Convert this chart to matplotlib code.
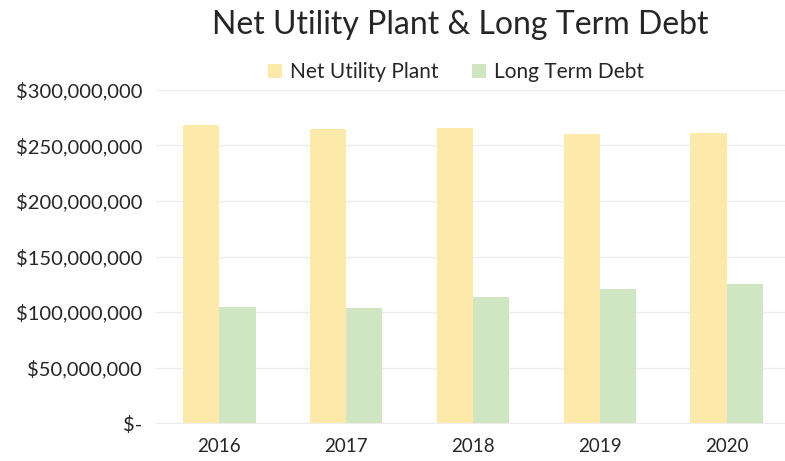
import numpy as np
import matplotlib.pyplot as plt
from matplotlib.ticker import FuncFormatter

plt.rcParams['font.family'] = ['Lato', 'DejaVu Sans']

# -------------------------------
# Data
# -------------------------------
years = ["2016", "2017", "2018", "2019", "2020"]
net_utility_plant = [268.5e6, 265.0e6, 266.0e6, 260.0e6, 261.0e6]
long_term_debt = [104.2e6, 104.0e6, 113.2e6, 120.4e6, 125.5e6]

yellow = "#FDE9A9"
green = "#D0E5C1"
text_col = "#262626"

# -------------------------------
# Figure / axes
# -------------------------------
fig = plt.figure(figsize=(7.85, 4.61), dpi=100)
ax = fig.add_axes([156 / 785, 1 - 423 / 461, 634 / 785, 333 / 461])

x = np.arange(len(years))
w = 0.285
ax.bar(x - w / 2, net_utility_plant, w, color=yellow, label="Net Utility Plant", zorder=2)
ax.bar(x + w / 2, long_term_debt, w, color=green, label="Long Term Debt", zorder=2)

# -------------------------------
# Axes formatting
# -------------------------------
ax.set_xlim(-0.5, len(years) - 0.5)
ax.set_ylim(0, 300e6)
ax.set_yticks(np.arange(0, 300e6 + 1, 50e6))
ax.yaxis.set_major_formatter(FuncFormatter(lambda v, p: "$-" if v == 0 else f"${v:,.0f}"))
ax.set_xticks(x)
ax.set_xticklabels(years)

ax.grid(axis="y", color="#ECECEC", linewidth=1, zorder=0)
for s in ["top", "right", "left"]:
    ax.spines[s].set_visible(False)
ax.spines["bottom"].set_color("#ECECEC")
ax.tick_params(axis="both", length=0, colors=text_col)
ax.tick_params(axis="y", pad=10, labelsize=14.5)
ax.tick_params(axis="x", pad=11, labelsize=13.5)

# -------------------------------
# Title and legend
# -------------------------------
fig.text(0.586, 1 - 25 / 461, "Net Utility Plant & Long Term Debt",
         ha="center", va="center", fontsize=23, color=text_col)
fig.legend(loc="center", bbox_to_anchor=(0.581, 1 - 72 / 461), ncol=2, frameon=False,
           fontsize=15, handlelength=0.65, handleheight=0.65, handletextpad=0.4,
           columnspacing=1.6, labelcolor=text_col)

fig.savefig("out.png", dpi=100)
